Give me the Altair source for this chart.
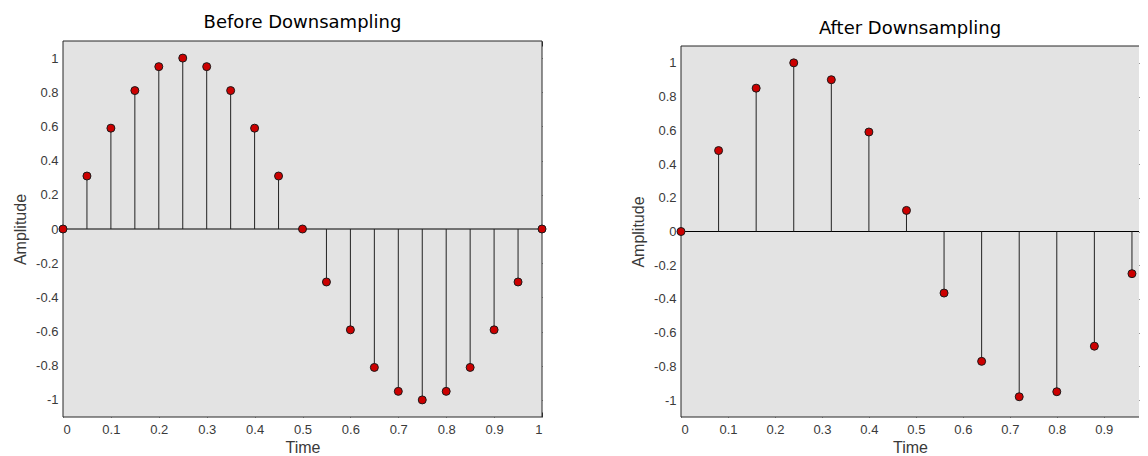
import altair as alt
import pandas as pd

# ---- data ----
before_time = [0.0, 0.05, 0.1, 0.15, 0.2, 0.25, 0.3, 0.35, 0.4, 0.45, 0.5,
               0.55, 0.6, 0.65, 0.7, 0.75, 0.8, 0.85, 0.9, 0.95, 1.0]
before_amp = [0.0, 0.31, 0.59, 0.81, 0.95, 1.0, 0.95, 0.81, 0.59, 0.31, 0.0,
              -0.31, -0.59, -0.81, -0.95, -1.0, -0.95, -0.81, -0.59, -0.31, 0.0]

after_time = [0.0, 0.08, 0.16, 0.24, 0.32, 0.40, 0.48, 0.56, 0.64, 0.72, 0.80, 0.88, 0.96]
after_amp = [0.0, 0.48, 0.85, 1.0, 0.90, 0.59, 0.125, -0.365, -0.77, -0.98, -0.95, -0.68, -0.25]

x_ticks = [0, 0.1, 0.2, 0.3, 0.4, 0.5, 0.6, 0.7, 0.8, 0.9, 1]
y_ticks = [-1, -0.8, -0.6, -0.4, -0.2, 0, 0.2, 0.4, 0.6, 0.8, 1]

LABEL_EXPR = "replace(format(datum.value, '~g'), '\u2212', '-')"
FRAME = "#262626"
BG = "#e3e3e3"


def panel(t, v, title, w, h, top_gap, x_max, right_edge):
    df = pd.DataFrame({"Time": t, "Amplitude": v})
    xs = alt.Scale(domain=[0, x_max], nice=False, zero=False)
    ys = alt.Scale(domain=[-1.1, 1.1], nice=False, zero=False, range=[h, top_gap])
    xt = [x for x in x_ticks if x <= x_max]

    ax_bottom = alt.Axis(orient="bottom", values=xt, offset=-5, tickSize=5,
                         domain=False, grid=False, labelPadding=6, title="Time",
                         titlePadding=3, labelExpr=LABEL_EXPR)
    ax_left = alt.Axis(orient="left", values=y_ticks, offset=-5, tickSize=5,
                       domain=False, grid=False, labelPadding=5, title="Amplitude",
                       titlePadding=7, labelExpr=LABEL_EXPR)
    ax_top = alt.Axis(orient="top", values=xt, offset=-5 - top_gap, tickSize=5,
                      domain=False, grid=False, labels=False, title=None)
    ax_right = alt.Axis(orient="right", values=y_ticks, offset=-5, tickSize=5,
                        domain=False, grid=False, labels=False, title=None)

    # plot-area background and frame, drawn through the scales
    box = pd.DataFrame({"x0": [0.0], "x1": [x_max], "y0": [-1.1], "y1": [1.1]})
    bg = alt.Chart(box).mark_rect(color=BG).encode(
        x=alt.X("x0:Q", scale=xs, axis=None), x2="x1:Q",
        y=alt.Y("y0:Q", scale=ys, axis=None), y2="y1:Q",
    )
    hframe = alt.Chart(pd.DataFrame({"yv": [-1.1, 1.1]})).mark_rule(
        color=FRAME, strokeWidth=1
    ).encode(y=alt.Y("yv:Q", scale=ys, axis=None))
    vx = [0.0, x_max] if right_edge else [0.0]
    vframe = alt.Chart(pd.DataFrame({"xv": vx, "lo": -1.1, "hi": 1.1})).mark_rule(
        color=FRAME, strokeWidth=1
    ).encode(
        x=alt.X("xv:Q", scale=xs, axis=None),
        y=alt.Y("lo:Q", scale=ys, axis=None), y2="hi:Q",
    )

    zero = alt.Chart(pd.DataFrame({"z": [0]})).mark_rule(
        color="black", strokeWidth=1
    ).encode(y=alt.Y("z:Q", scale=ys, axis=None))

    stems = alt.Chart(df).mark_rule(color="#222222", strokeWidth=1).encode(
        x=alt.X("Time:Q", scale=xs, axis=ax_bottom),
        y=alt.Y("Amplitude:Q", scale=ys, axis=ax_left),
        y2=alt.datum(0),
    )

    points = alt.Chart(df).mark_circle(
        size=64, fill="#cc0000", stroke="#1a1a1a", strokeWidth=1, opacity=1
    ).encode(
        x=alt.X("Time:Q", scale=xs, axis=ax_top),
        y=alt.Y("Amplitude:Q", scale=ys, axis=ax_right),
    )

    return alt.layer(bg, hframe, vframe, zero, stems, points).resolve_axis(
        x="independent", y="independent"
    ).properties(width=w, height=h, title=title)


left = panel(before_time, before_amp,
             alt.TitleParams(text="Before Downsampling", offset=9),
             479, 376, 0, 1.0, True)
right = panel(after_time, after_amp,
              alt.TitleParams(text="After Downsampling", offset=3),
              458, 376, 5, 0.975, False)

chart = alt.hconcat(left, right, spacing=82).properties(
    padding={"left": 4, "top": 5, "right": 0, "bottom": 0}
).configure_view(
    strokeWidth=0
).configure_axis(
    labelFont="Liberation Sans", labelFontSize=13, labelColor="#3a3a3a",
    titleFont="Liberation Sans", titleFontSize=16, titleColor="#3a3a3a",
    titleFontWeight="normal", tickColor="#333333", tickWidth=1,
).configure_title(
    font="DejaVu Sans", fontSize=18, fontWeight="normal", color="black",
    anchor="middle",
)

chart.save("out.html", embed_options={"renderer": "svg", "actions": False})
